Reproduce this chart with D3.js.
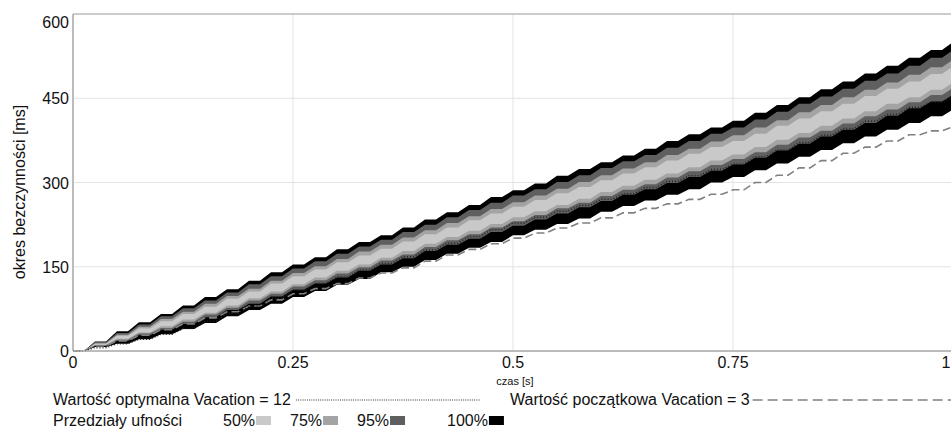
<!DOCTYPE html>
<html>
<head>
<meta charset="utf-8">
<script src="https://cdn.jsdelivr.net/npm/d3@7"></script>
<style>
  body { margin: 0; background: #fff; }
  svg { display: block; font-family: "Liberation Sans", Arial, sans-serif; }
</style>
</head>
<body>
<div class="chart"></div>
<script>
// time samples [s]
const times = [0, 0.025, 0.05, 0.075, 0.1, 0.125, 0.15, 0.175, 0.2, 0.225,
  0.25, 0.275, 0.3, 0.325, 0.35, 0.375, 0.4, 0.425, 0.45, 0.475,
  0.5, 0.525, 0.55, 0.575, 0.6, 0.625, 0.65, 0.675, 0.7, 0.725,
  0.75, 0.775, 0.8, 0.825, 0.85, 0.875, 0.9, 0.925, 0.95, 0.975, 1];

// confidence bands [ms]
const lo100 = [0, 7, 13, 21, 30, 39, 50, 62, 73, 84, 96, 107, 118, 128, 140, 150, 162, 173, 184, 194,
  206, 216, 226, 236, 248, 258, 268, 278, 288, 300, 310, 322, 334, 346, 358, 370, 382, 394, 406, 418, 430];
const lo95 = [0, 9, 18, 28, 38, 48, 60, 73, 84, 97, 109, 120, 131, 143, 154, 165, 178, 189, 200, 212,
  223, 234, 245, 256, 267, 278, 288, 299, 310, 321, 332, 344, 357, 369, 382, 394, 406, 419, 432, 444, 456];
const lo75 = [0, 10, 20, 31, 41, 52, 65, 77, 90, 102, 115, 126, 138, 149, 161, 172, 185, 197, 208, 220,
  231, 242, 254, 264, 276, 287, 297, 309, 320, 331, 342, 354, 367, 380, 392, 405, 418, 430, 443, 456, 468];
const lo50 = [0, 11, 22, 33, 44, 56, 68, 81, 94, 106, 119, 131, 143, 154, 166, 178, 191, 203, 214, 226,
  238, 249, 260, 271, 283, 294, 305, 316, 327, 339, 350, 363, 376, 388, 401, 414, 427, 440, 452, 465, 478];
const hi50 = [0, 13, 27, 40, 53, 66, 79, 93, 106, 120, 133, 145, 158, 170, 182, 195, 208, 220, 233, 245,
  257, 269, 281, 292, 304, 316, 327, 339, 351, 363, 374, 387, 401, 414, 427, 440, 454, 467, 480, 493, 507];
const hi75 = [0, 14, 29, 43, 57, 70, 84, 98, 111, 125, 139, 151, 164, 177, 189, 202, 215, 228, 240, 253,
  265, 277, 289, 301, 313, 325, 336, 349, 360, 373, 384, 398, 411, 425, 438, 452, 465, 478, 492, 505, 519];
const hi95 = [0, 16, 32, 47, 62, 76, 90, 104, 119, 133, 147, 160, 173, 186, 198, 212, 225, 238, 251, 264,
  277, 288, 301, 313, 326, 338, 349, 362, 374, 387, 398, 412, 426, 440, 453, 467, 481, 494, 508, 522, 536];
const hi100 = [0, 17, 35, 51, 66, 81, 96, 110, 125, 140, 154, 167, 181, 194, 206, 220, 234, 247, 260, 274,
  286, 298, 312, 324, 336, 348, 360, 374, 386, 398, 410, 424, 438, 452, 466, 480, 494, 508, 522, 536, 550];

// optimal Vacation = 12 (dotted) and initial Vacation = 3 (dashed)
const optimal = [0, 6, 13, 21, 30, 40, 53, 67, 80, 94, 108, 120, 132, 144, 156, 168, 180, 192, 204, 216,
  228, 238, 249, 259, 270, 280, 291, 302, 312, 323, 333, 346, 358, 371, 384, 396, 409, 421, 434, 443, 452];
const initial = [0, 9, 18, 28, 38, 48, 59, 70, 80, 91, 102, 111, 120, 130, 139, 148, 160, 171, 181, 191,
  201, 210, 219, 228, 237, 246, 254, 262, 270, 279, 287, 300, 313, 326, 339, 352, 363, 374, 385, 392, 399];

const xTicks = [0, 0.25, 0.5, 0.75, 1];
const yTicks = [0, 150, 300, 450, 600];
const levelNames = ["100%", "95%", "75%", "50%"];
const levelColors = ["#000000", "#5f5f5f", "#a4a4a4", "#c9c9c9"];

const W = 951, H = 433;
const plot = { left: 73, top: 14, right: 953, bottom: 351 };
const flat = 0.5;

const svg = d3.select(".chart").append("svg")
    .attr("width", W)
    .attr("height", H);

const x = d3.scaleLinear().domain([0, 1]).range([plot.left, plot.right]);
const y = d3.scaleLinear().domain([0, 600]).range([plot.bottom, plot.top]);

// grid
svg.append("g")
    .selectAll("line")
    .data(xTicks.slice(1))
    .enter()
    .append("line")
    .attr("x1", d => x(d)).attr("x2", d => x(d))
    .attr("y1", plot.top).attr("y2", plot.bottom)
    .attr("stroke", "#e3e3e3");
svg.append("g")
    .selectAll("line")
    .data(yTicks.slice(1))
    .enter()
    .append("line")
    .attr("x1", plot.left).attr("x2", plot.right)
    .attr("y1", d => y(d)).attr("y2", d => y(d))
    .attr("stroke", "#e3e3e3");

// stepped rendering: each sample is held flat for part of the interval, then ramps
function stepped(n) {
    const pts = [];
    for (let i = 0; i < n - 1; i++) {
        pts.push({ i, t: times[i] });
        pts.push({ i, t: times[i] + flat * (times[i + 1] - times[i]) });
    }
    pts.push({ i: n - 1, t: times[n - 1] });
    return pts;
}
const pts = stepped(times.length);

const bands = [
    [lo100, hi100], [lo95, hi95], [lo75, hi75], [lo50, hi50]
];
const area = (lo, hi) => d3.area()
    .x(d => x(d.t))
    .y0(d => y(lo[d.i]))
    .y1(d => y(hi[d.i]));

const g = svg.append("g");
g.selectAll("path")
    .data(bands)
    .enter()
    .append("path")
    .attr("d", d => area(d[0], d[1])(pts))
    .attr("fill", (d, i) => levelColors[i])
    .attr("stroke", "none");

const line = vals => d3.line()
    .x(d => x(d.t))
    .y(d => y(vals[d.i]));

g.append("path")
    .attr("d", line(initial)(pts))
    .attr("fill", "none")
    .attr("stroke", "#808080")
    .attr("stroke-width", 1.6)
    .attr("stroke-dasharray", "8,4");

g.append("path")
    .attr("d", line(optimal)(pts))
    .attr("fill", "none")
    .attr("stroke", "#222")
    .attr("stroke-width", 1.5)
    .attr("stroke-dasharray", "1,2");

// frame
svg.append("line")
    .attr("x1", plot.left).attr("x2", plot.right)
    .attr("y1", plot.top).attr("y2", plot.top)
    .attr("stroke", "#a6a6a6");
svg.append("line")
    .attr("x1", plot.left).attr("x2", plot.right)
    .attr("y1", plot.bottom).attr("y2", plot.bottom)
    .attr("stroke", "#a6a6a6").attr("stroke-width", 1.5);
svg.append("line")
    .attr("x1", plot.left).attr("x2", plot.left)
    .attr("y1", plot.top).attr("y2", plot.bottom)
    .attr("stroke", "#a6a6a6").attr("stroke-width", 1.5);

// tick labels
svg.append("g")
    .selectAll("text")
    .data(yTicks)
    .enter()
    .append("text")
    .attr("x", 69)
    .attr("y", d => Math.max(y(d), 22) + 6)
    .attr("text-anchor", "end")
    .attr("font-size", 16)
    .attr("fill", "#111")
    .text(d => d);
svg.append("g")
    .selectAll("text")
    .data(xTicks)
    .enter()
    .append("text")
    .attr("x", d => Math.min(x(d), W - 5))
    .attr("y", 368)
    .attr("text-anchor", "middle")
    .attr("font-size", 16)
    .attr("fill", "#111")
    .text(d => d);

// axis titles
svg.append("text")
    .attr("transform", "translate(25,192) rotate(-90)")
    .attr("text-anchor", "middle")
    .attr("font-size", 16)
    .attr("fill", "#111")
    .text("okres bezczynności [ms]");
svg.append("text")
    .attr("x", 515)
    .attr("y", 385)
    .attr("text-anchor", "middle")
    .attr("font-size", 11)
    .attr("fill", "#111")
    .text("czas [s]");

// legend
const leg = svg.append("g").attr("font-size", 16).attr("fill", "#111");
const t1 = leg.append("text").attr("x", 53).attr("y", 405).text("Wartość optymalna Vacation = 12");
const e1 = 53 + t1.node().getComputedTextLength();
leg.append("line")
    .attr("x1", e1 + 5).attr("x2", 480).attr("y1", 400).attr("y2", 400)
    .attr("stroke", "#333").attr("stroke-width", 1.2).attr("stroke-dasharray", "1,1.2");
const t2 = leg.append("text").attr("x", 510).attr("y", 405).text("Wartość początkowa Vacation = 3");
const e2 = 510 + t2.node().getComputedTextLength();
leg.append("line")
    .attr("x1", e2 + 3).attr("x2", 951).attr("y1", 400).attr("y2", 400)
    .attr("stroke", "#808080").attr("stroke-width", 1.6).attr("stroke-dasharray", "10,5");

leg.append("text").attr("x", 53).attr("y", 426).text("Przedziały ufności");
const legX = [223, 290, 357, 447];
const swatchOrder = [3, 2, 1, 0];
swatchOrder.forEach((k, j) => {
    const t = leg.append("text").attr("x", legX[j]).attr("y", 426).text(levelNames[k]);
    const w = t.node().getComputedTextLength();
    leg.append("rect")
        .attr("x", legX[j] + w + 1)
        .attr("y", 416)
        .attr("width", 15)
        .attr("height", 9)
        .attr("fill", levelColors[k]);
});
</script>
</body>
</html>
